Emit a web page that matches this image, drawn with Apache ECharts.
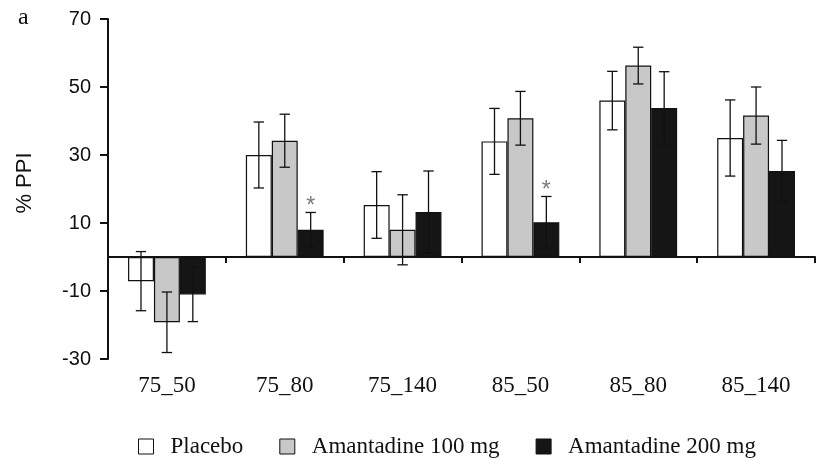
<!DOCTYPE html>
<html>
<head>
<meta charset="utf-8">
<script src="https://cdn.jsdelivr.net/npm/echarts@6/dist/echarts.min.js"></script>
<style>html,body{margin:0;padding:0;background:#fff}#c{width:816px;height:460px}</style>
</head>
<body>
<div id="c"></div>
<script>
const categories = ['75_50', '75_80', '75_140', '85_50', '85_80', '85_140'];
const placebo    = [-7.1, 30, 15.3, 34, 46, 35];
const placeboErr = [8.7, 9.7, 9.8, 9.7, 8.6, 11.2];
const am100      = [-19.2, 34.2, 8, 40.8, 56.3, 41.6];
const am100Err   = [8.9, 7.8, 10.3, 7.9, 5.4, 8.4];
const am200      = [-11, 8, 13.2, 10.2, 43.8, 25.3];
const am200Err   = [8, 5.1, 12.1, 7.6, 10.7, 9];
const sig200     = ['', '*', '', '*', '', ''];
const seriesNames = ['Placebo', 'Amantadine 100 mg', 'Amantadine 200 mg'];
const yTicks = { min: -30, max: 70, interval: 20 };

const fills = ['#ffffff', '#c8c8c8', '#151515'];
const CAT_FILL = 0.66; // 1 - barCategoryGap

function errSeries(vals, errs, k, sig) {
  return {
    type: 'custom',
    name: seriesNames[k] + ' err',
    xAxisIndex: 0,
    z: 5,
    silent: true,
    encode: { x: 0, y: [1] },
    data: vals.map((v, i) => [i, v, errs[i]]),
    renderItem: function (params, api) {
      const idx = api.value(0), v = api.value(1), e = api.value(2);
      const catW = api.size([1, 0])[0];
      const barW = catW * CAT_FILL / 3;
      const off = (k - 1) * barW;
      const top = api.coord([idx, v + e]);
      const bot = api.coord([idx, v - e]);
      const x = top[0] + off;
      const cap = barW * 0.2;
      const st = { stroke: '#111', lineWidth: 1.3 };
      const children = [
        { type: 'line', shape: { x1: x, y1: top[1], x2: x, y2: bot[1] }, style: st },
        { type: 'line', shape: { x1: x - cap, y1: top[1], x2: x + cap, y2: top[1] }, style: st },
        { type: 'line', shape: { x1: x - cap, y1: bot[1], x2: x + cap, y2: bot[1] }, style: st }
      ];
      if (sig && sig[params.dataIndex]) {
        children.push({
          type: 'text',
          style: {
            text: sig[params.dataIndex], x: x, y: top[1] - 6,
            align: 'center', verticalAlign: 'middle',
            font: '23px "Liberation Sans", Arial, sans-serif', fill: '#7a7a7a'
          }
        });
      }
      return { type: 'group', children: children };
    }
  };
}

function barSeries(vals, k) {
  return {
    type: 'bar',
    name: seriesNames[k],
    xAxisIndex: 0,
    data: vals,
    barGap: '0%',
    barCategoryGap: '34%',
    itemStyle: { color: fills[k], borderColor: '#111', borderWidth: 1.2 },
    z: 2
  };
}

const chart = echarts.init(document.getElementById('c'), null, { renderer: 'canvas' });
chart.setOption({
  animation: false,
  backgroundColor: '#fff',
  title: {
    text: 'a', left: 13, top: 1,
    textStyle: { fontFamily: '"Liberation Serif", "Times New Roman", serif', fontSize: 24, fontWeight: 'normal', color: '#111' }
  },
  grid: { left: 108, right: 1, top: 19, bottom: 101, containLabel: false },
  legend: {
    left: 133, top: 430,
    itemWidth: 15, itemHeight: 15, itemGap: 36,
    icon: 'rect',
    data: seriesNames.map((n, k) => ({ name: n, itemStyle: { color: fills[k], borderColor: '#111', borderWidth: 1 } })),
    textStyle: { fontFamily: '"Liberation Serif", "Times New Roman", serif', fontSize: 23, color: '#111', padding: [0, 0, 0, 12] }
  },
  xAxis: [
    {
      type: 'category', data: categories, position: 'bottom',
      axisLine: { onZero: true, lineStyle: { color: '#111', width: 2 } },
      axisTick: { show: true, interval: 0, length: 6, lineStyle: { color: '#111', width: 2 } },
      axisLabel: { show: false },
      splitLine: { show: false }
    },
    {
      type: 'category', data: categories, position: 'bottom',
      axisLine: { show: false, onZero: false },
      axisTick: { show: false },
      axisLabel: { show: true, interval: 0, margin: 15, color: '#111', fontFamily: '"Liberation Serif", "Times New Roman", serif', fontSize: 23 },
      splitLine: { show: false }
    }
  ],
  yAxis: {
    type: 'value', min: yTicks.min, max: yTicks.max, interval: yTicks.interval,
    name: '% PPI', nameLocation: 'middle', nameGap: 72, nameRotate: 90,
    nameTextStyle: { fontFamily: '"Liberation Sans", Arial, sans-serif', fontSize: 22, color: '#111', padding: [0, 0, 0, 12] },
    axisLine: { show: true, lineStyle: { color: '#111', width: 2 } },
    axisTick: { show: true, length: 8, lineStyle: { color: '#111', width: 2 } },
    axisLabel: { margin: 17, color: '#111', fontFamily: '"Liberation Sans", Arial, sans-serif', fontSize: 20 },
    splitLine: { show: false }
  },
  series: [
    barSeries(placebo, 0),
    barSeries(am100, 1),
    barSeries(am200, 2),
    errSeries(placebo, placeboErr, 0, null),
    errSeries(am100, am100Err, 1, null),
    errSeries(am200, am200Err, 2, sig200)
  ]
});
</script>
</body>
</html>
